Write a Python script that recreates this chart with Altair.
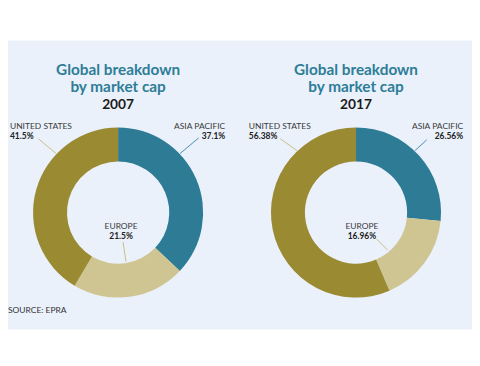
import altair as alt
import pandas as pd

# ---- data ----
regions = ["ASIA PACIFIC", "EUROPE", "UNITED STATES"]
share_2007 = [37.1, 21.5, 41.5]
share_2017 = [26.56, 16.96, 56.38]
label_2007 = ["37.1%", "21.5%", "41.5%"]
label_2017 = ["26.56%", "16.96%", "56.38%"]
colors = ["#2E7B96", "#CFC592", "#9A8A32"]
title_lines = ["Global breakdown", "by market cap"]
years = ["2007", "2017"]
source_text = "SOURCE: EPRA"

FONT = "Lato"
TEAL = "#2E7D97"
W, H = 472, 358

one = pd.DataFrame({"k": [0]})


def year_df(shares, labels):
    return pd.DataFrame({
        "region": regions,
        "share": shares,
        "pct": labels,
        "ord": list(range(len(regions))),
    })


df07 = year_df(share_2007, label_2007)
df17 = year_df(share_2017, label_2017)

color_scale = alt.Scale(domain=regions, range=colors)

layers = []

# background panel
layers.append(
    alt.Chart(one).mark_rect(color="#EAF1FB").encode(
        x=alt.value(0), x2=alt.value(W), y=alt.value(30), y2=alt.value(324)
    )
)


def donut(df, cx, cy):
    return alt.Chart(df).mark_arc(outerRadius=86.5, innerRadius=52).encode(
        theta=alt.Theta("share:Q", stack=True),
        order=alt.Order("ord:O"),
        color=alt.Color("region:N", scale=color_scale, legend=None),
        x=alt.value(cx),
        y=alt.value(cy),
    )


def text_layer(df, field, x, y, align, size, weight, color):
    return alt.Chart(df).mark_text(
        align=align, baseline="alphabetic", font=FONT, fontSize=size,
        fontWeight=weight, color=color
    ).encode(text=alt.Text(field), x=alt.value(x), y=alt.value(y))


def leader(x1, y1, x2, y2, color):
    return alt.Chart(one).mark_rule(color=color, strokeWidth=1).encode(
        x=alt.value(x1), y=alt.value(y1), x2=alt.value(x2), y2=alt.value(y2)
    )


panels = [
    dict(df=df07, year=years[0], cx=112, tx=112,
         us=(2, "left"), asia=(221, "right"), eu=115,
         lines=[(31, 130, 49, 145), (194, 129, 175, 145), (117, 235, 120, 255)]),
    dict(df=df17, year=years[1], cx=354, tx=354,
         us=(245, "left"), asia=(463, "right"), eu=360,
         lines=[(277, 130, 294, 142), (426, 131, 414, 142), (375, 232, 386, 243)]),
]

LBL = 8.6

for p in panels:
    df = p["df"]
    cy = 205
    layers.append(donut(df, p["cx"], cy))
    # two-line title as a single multi-line text
    layers.append(
        alt.Chart(one).mark_text(
            text=title_lines, align="center", baseline="alphabetic", font=FONT,
            fontSize=15.6, fontWeight="bold", color=TEAL, lineHeight=17
        ).encode(x=alt.value(p["tx"]), y=alt.value(65))
    )
    ydf = pd.DataFrame({"t": [p["year"]]})
    layers.append(text_layer(ydf, "t:N", p["tx"], 100, "center", 14, "bold", "#1a1a1a"))

    asia = df[df.region == regions[0]]
    eu = df[df.region == regions[1]]
    us = df[df.region == regions[2]]

    ux, ua = p["us"]
    ax, aa = p["asia"]
    ex = p["eu"]
    for sub, x, al, yb in [(us, ux, ua, 120), (asia, ax, aa, 120), (eu, ex, "center", 222)]:
        layers.append(text_layer(sub, "region:N", x, yb, al, LBL, "normal", "#3a3a3a"))
        layers.append(text_layer(sub, "pct:N", x, yb + 10, al, LBL, "bold", "#222222"))

    lus, las, leu = p["lines"]
    layers.append(leader(*lus, "#C9BE86"))
    layers.append(leader(*las, "#4A8FA8"))
    layers.append(leader(*leu, "#C9BE86"))

sdf = pd.DataFrame({"t": [source_text]})
layers.append(text_layer(sdf, "t:N", 0, 307, "left", 8.6, "normal", "#333333"))

chart = alt.layer(*layers).resolve_scale(theta="independent").properties(
    width=W, height=H, autosize=alt.AutoSizeParams(type="none"), padding=0,
    background="white"
).configure_view(stroke=None)

chart.save("out.html", embed_options={"renderer": "svg", "actions": False})
